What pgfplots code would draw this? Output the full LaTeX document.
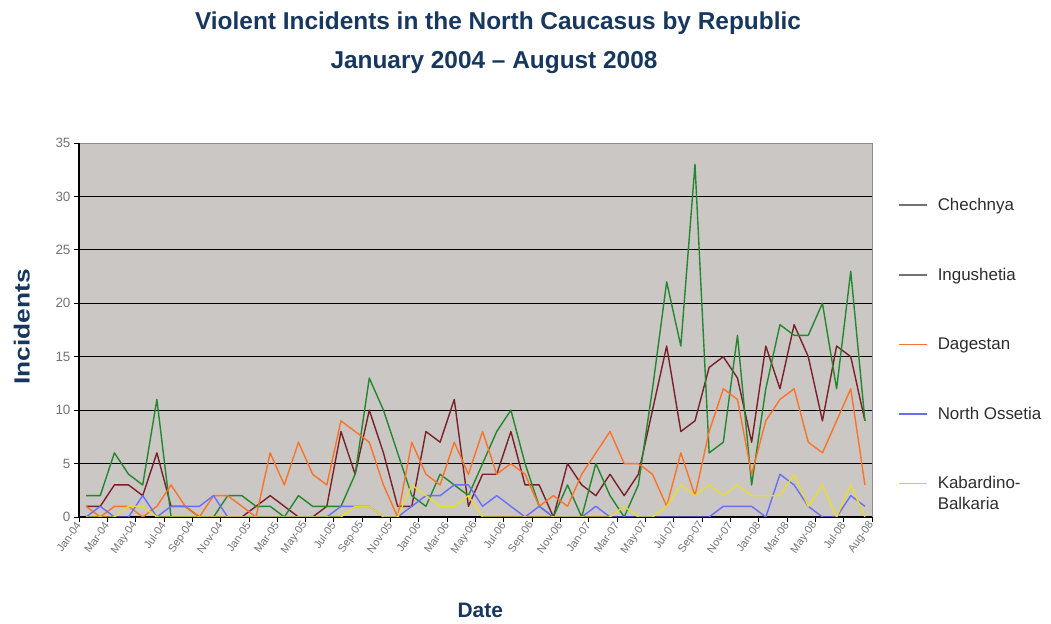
\documentclass[border=0pt]{standalone}
\usepackage{fontspec}
\setmainfont{Liberation Sans}
\usepackage{graphicx}
\usepackage{pgfplots}
\usepackage{pgfplotstable}
\pgfplotsset{compat=1.18}

\definecolor{titleblue}{RGB}{23,55,94}
\definecolor{plotbg}{RGB}{203,199,196}
\definecolor{framegray}{RGB}{140,140,140}
\definecolor{ticktext}{RGB}{115,115,115}
\definecolor{legtext}{RGB}{45,45,45}
\definecolor{legline}{RGB}{115,115,115}
\definecolor{chechnya}{RGB}{122,32,40}
\definecolor{ingushetia}{RGB}{35,135,45}
\definecolor{dagestan}{RGB}{250,115,40}
\definecolor{ossetia}{RGB}{105,110,250}
\definecolor{kabbalk}{RGB}{232,220,45}

% monthly incident counts, m = 0 is January 2004
\pgfplotstableread{
m  che ing dag nos kbr
0   1   2   1   0   0
1   1   2   0   1   0
2   3   6   1   0   0
3   3   4   1   0   1
4   2   3   0   2   1
5   6  11   1   0   0
6   1   0   3   1   0
7   1   0   1   1   0
8   0   0   0   1   0
9   0   0   2   2   0
10  0   2   2   0   0
11  0   2   1   0   0
12  1   1   0   0   0
13  2   1   6   0   0
14  1   0   3   0   0
15  0   2   7   0   0
16  0   1   4   0   0
17  1   1   3   0   0
18  8   1   9   1   0
19  4   4   8   1   1
20 10  13   7   1   1
21  6  10   3   0   0
22  1   6   0   0   0
23  1   2   7   1   3
24  8   1   4   2   2
25  7   4   3   2   1
26 11   3   7   3   1
27  1   2   4   3   2
28  4   5   8   1   0
29  4   8   4   2   0
30  8  10   5   1   0
31  3   5   4   0   0
32  3   1   1   1   0
33  0   0   2   0   0
34  5   3   1   0   0
35  3   0   4   0   0
36  2   5   6   1   0
37  4   2   8   0   0
38  2   0   5   0   1
39  4   3   5   0   0
40 10  12   4   0   0
41 16  22   1   0   1
42  8  16   6   0   3
43  9  33   2   0   2
44 14   6   8   0   3
45 15   7  12   1   2
46 13  17  11   1   3
47  7   3   4   1   2
48 16  12   9   0   2
49 12  18  11   4   2
50 18  17  12   3   4
51 15  17   7   1   1
52  9  20   6   0   3
53 16  12   9   0   0
54 15  23  12   2   3
55  9   9   3   1   0
}\incidents

\begin{document}
\begin{tikzpicture}
\useasboundingbox (0,0) rectangle (1051bp,624bp);
\node[font=\fontsize{24.5}{28}\selectfont\bfseries, text=titleblue] at (498bp,601bp)
  {Violent Incidents in the North Caucasus by Republic};
\node[font=\fontsize{24.5}{28}\selectfont\bfseries, text=titleblue] at (494bp,561bp)
  {January 2004 – August 2008};
\begin{axis}[
  at={(79bp,107bp)}, anchor=south west,
  scale only axis, width=793bp, height=374bp,
  xmin=0, xmax=56, ymin=0, ymax=35,
  axis background/.style={fill=plotbg, draw=framegray, line width=0.8pt},
  axis lines=left,
  axis line style={-, black, line width=1.1pt},
  tick align=outside, major tick length=5bp,
  tick style={black, line width=0.8pt},
  xtick={0,2,...,56},
  xticklabels={Jan-04,Mar-04,May-04,Jul-04,Sep-04,Nov-04,
               Jan-05,Mar-05,May-05,Jul-05,Sep-05,Nov-05,
               Jan-06,Mar-06,May-06,Jul-06,Sep-06,Nov-06,
               Jan-07,Mar-07,May-07,Jul-07,Sep-07,Nov-07,
               Jan-08,Mar-08,May-08,Jul-08,Aug-08},
  xticklabel style={rotate=55, anchor=east, inner sep=1bp,
                    font=\fontsize{11}{13}\selectfont, text=ticktext},
  ytick={0,5,...,35},
  yticklabel style={font=\fontsize{13.5}{15}\selectfont, text=ticktext},
  /pgf/number format/assume math mode=true,
  extra y ticks={5,10,...,30},
  extra y tick labels={},
  extra y tick style={grid=major, major tick length=0pt},
  grid style={black, line width=1.1pt},
  xlabel={Date},
  xlabel style={at={(axis description cs:0.506,-0.249)}, anchor=center,
                font=\fontsize{21}{24}\selectfont\bfseries, text=titleblue},
  ylabel={\scalebox{1.2}[1]{Incidents}},
  ylabel style={at={(axis description cs:-0.072,0.508)}, anchor=center,
                font=\fontsize{22}{24}\selectfont\bfseries, text=titleblue},
  legend image code/.code={\draw[#1] (0bp,0bp) -- (28bp,0bp); \path (36bp,0bp);},
  legend style={at={(axis description cs:1.033,0.858)}, anchor=north west,
                draw=none, fill=none, inner sep=0pt, row sep=52bp,
                font=\fontsize{17}{21}\selectfont, text=legtext,
                cells={align=left}},
  legend cell align=left,
  every axis plot/.append style={line width=1.4pt, line join=round},
]
\addplot[chechnya, forget plot]   table[x expr=\thisrow{m}+0.5, y=che] {\incidents};
\addplot[ingushetia, forget plot] table[x expr=\thisrow{m}+0.5, y=ing] {\incidents};
\addplot[dagestan, forget plot]   table[x expr=\thisrow{m}+0.5, y=dag] {\incidents};
\addplot[ossetia, forget plot]    table[x expr=\thisrow{m}+0.5, y=nos] {\incidents};
\addplot[kabbalk, forget plot]    table[x expr=\thisrow{m}+0.5, y=kbr] {\incidents};

\addlegendimage{legline, line width=1.4pt}
\addlegendentry{Chechnya}
\addlegendimage{legline, line width=1.4pt}
\addlegendentry{Ingushetia}
\addlegendimage{dagestan, line width=1.4pt}
\addlegendentry{Dagestan}
\addlegendimage{ossetia, line width=1.4pt}
\addlegendentry{North Ossetia}
\addlegendimage{kabbalk!85!green, line width=1.4pt, yshift=10.5bp}
\addlegendentry{Kabardino-\\Balkaria}
\end{axis}
\end{tikzpicture}
\end{document}
